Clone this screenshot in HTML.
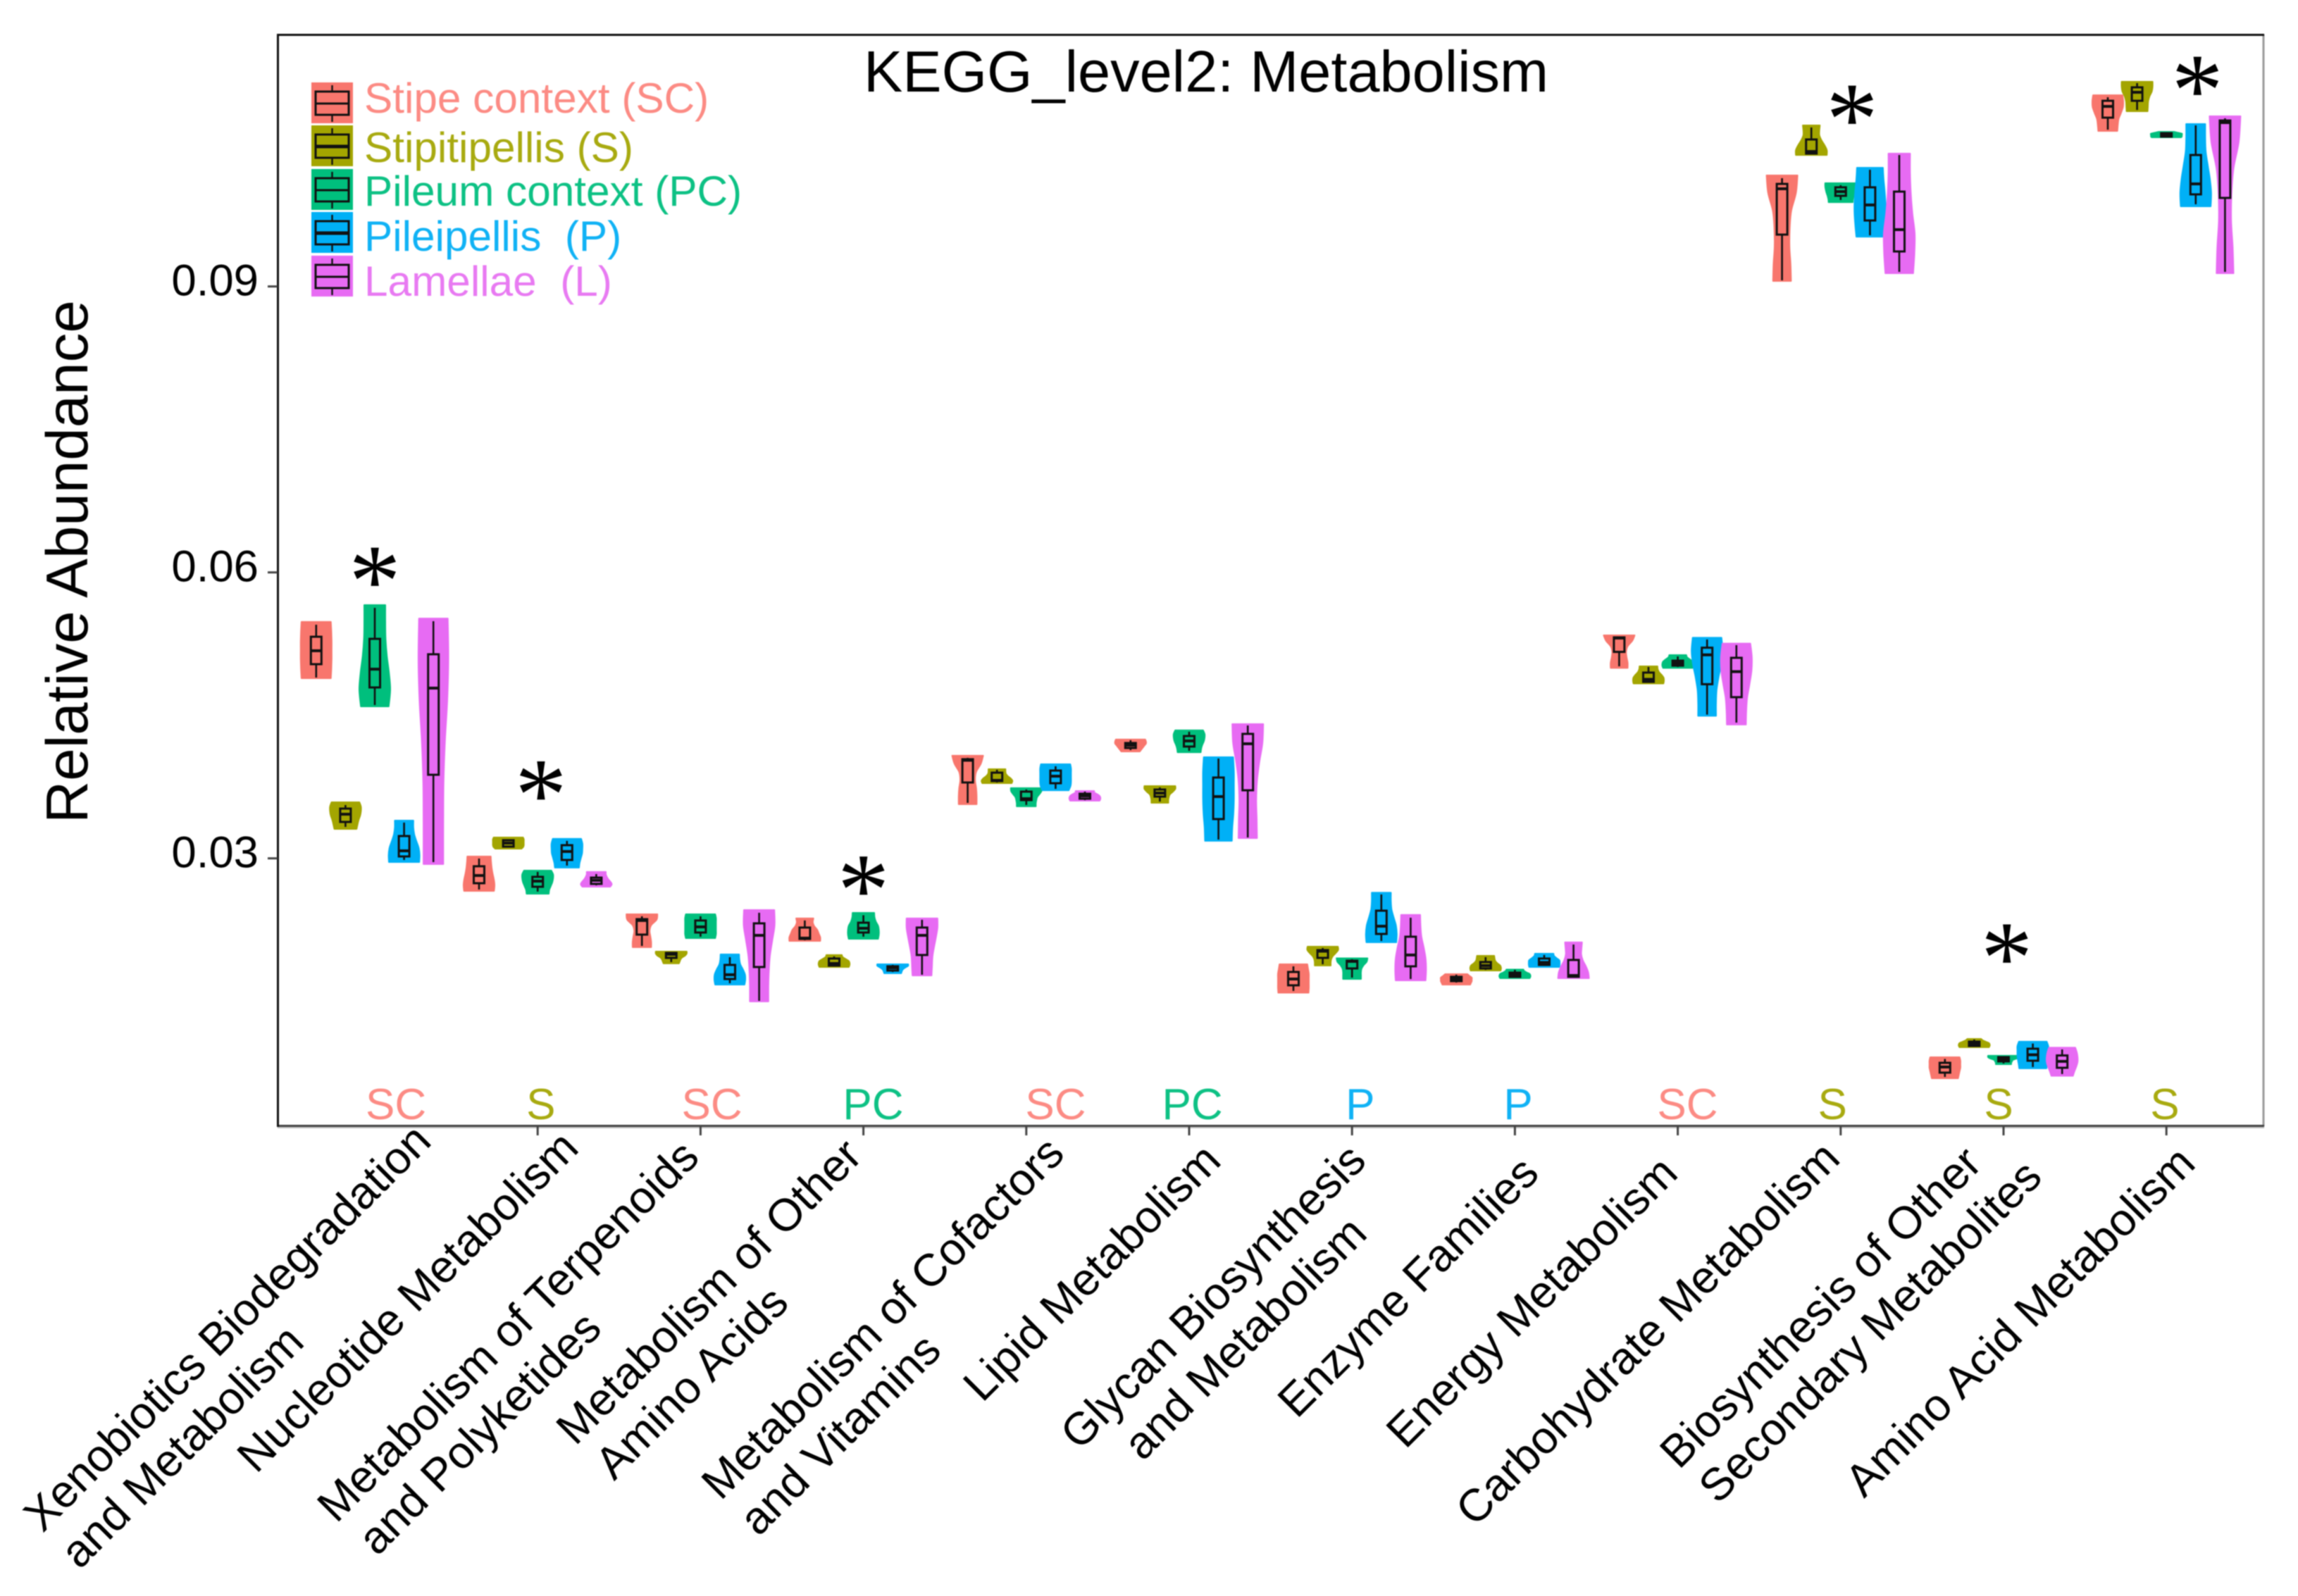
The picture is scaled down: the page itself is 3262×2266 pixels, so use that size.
<!DOCTYPE html>
<html lang="en">
<head>
<meta charset="utf-8">
<title>KEGG_level2: Metabolism</title>
<style>
html,body{margin:0;padding:0;background:#fff;}
svg{display:block;filter:blur(0.7px);}
text{font-family:"Liberation Sans",Arial,sans-serif;white-space:pre;}
</style>
</head>
<body>
<svg id="chart" xmlns="http://www.w3.org/2000/svg" width="3262" height="2266" viewBox="0 0 3262 2266">
  <rect x="0" y="0" width="3262" height="2266" fill="#ffffff"/>
  <g id="marks"></g>
  <line x1="3213" y1="49" x2="3213" y2="1599" stroke="#9a9a9a" stroke-width="3"/>
  <line x1="394" y1="1601" x2="3214" y2="1601" stroke="#c4c4c4" stroke-width="2"/>
  <line x1="394" y1="1598.5" x2="3214" y2="1598.5" stroke="#444444" stroke-width="3"/>
  <line x1="393" y1="49.5" x2="3214" y2="49.5" stroke="#111111" stroke-width="3"/>
  <line x1="394.5" y1="48" x2="394.5" y2="1600" stroke="#111111" stroke-width="3"/>
  <g id="axes"></g>
  <text x="1226" y="130" font-size="82.9" fill="#000">KEGG_level2: Metabolism</text>
  <text transform="translate(124,1169) rotate(-90)" font-size="83.5" fill="#000">Relative Abundance</text>
  <g id="legend"></g>
</svg>
<script>
// ---------- Data ----------
const categories = [
  ["Xenobiotics Biodegradation", "and Metabolism"],
  ["Nucleotide Metabolism"],
  ["Metabolism of Terpenoids", "and Polyketides"],
  ["Metabolism of Other", "Amino Acids"],
  ["Metabolism of Cofactors", "and Vitamins"],
  ["Lipid Metabolism"],
  ["Glycan Biosynthesis", "and Metabolism"],
  ["Enzyme Families"],
  ["Energy Metabolism"],
  ["Carbohydrate Metabolism"],
  ["Biosynthesis of Other", "Secondary Metabolites"],
  ["Amino Acid Metabolism"]
];
const tissues = ["Stipe context (SC)", "Stipitipellis (S)", "Pileum context (PC)", "Pileipellis  (P)", "Lamellae  (L)"];
const yTicks = [0.09, 0.06, 0.03];
const yTickLabels = ["0.09", "0.06", "0.03"];
const dominantTissue = [0, 1, 0, 2, 0, 2, 3, 3, 0, 1, 1, 1];
const dominantLabels = ["SC", "S", "SC", "PC", "SC", "PC", "P", "P", "SC", "S", "S", "S"];
const asteriskBand = [0, 1.02, 3, 9.07, 10.02, 11.19];
const asteriskValue = [0.06053, 0.03811, 0.02813, 0.10900, 0.02100, 0.11203];

const violinMax = [
  [0.05481, 0.03589, 0.05658, 0.03397, 0.05517],
  [0.03020, 0.03219, 0.02872, 0.03205, 0.02858],
  [0.02414, 0.02022, 0.02414, 0.01993, 0.02458],
  [0.02370, 0.01986, 0.02429, 0.01889, 0.02370],
  [0.04077, 0.03936, 0.03737, 0.03988, 0.03707],
  [0.04247, 0.03759, 0.04343, 0.04062, 0.04409],
  [0.01889, 0.02074, 0.01952, 0.02640, 0.02407],
  [0.01786, 0.01978, 0.01834, 0.02000, 0.02119],
  [0.05340, 0.05015, 0.05133, 0.05315, 0.05254],
  [0.10165, 0.10690, 0.10084, 0.10246, 0.10394],
  [0.00914, 0.01106, 0.00929, 0.01077, 0.01014],
  [0.11007, 0.11148, 0.10623, 0.10705, 0.10786]
];
const whiskerHigh = [
  [0.05451, 0.03559, 0.05628, 0.03375, 0.05488],
  [0.02998, 0.03197, 0.02858, 0.03183, 0.02835],
  [0.02392, 0.02015, 0.02392, 0.01963, 0.02429],
  [0.02348, 0.01971, 0.02403, 0.01882, 0.02355],
  [0.04054, 0.03929, 0.03722, 0.03966, 0.03700],
  [0.04239, 0.03744, 0.04328, 0.04047, 0.04394],
  [0.01867, 0.02059, 0.01941, 0.02621, 0.02377],
  [0.01779, 0.01963, 0.01830, 0.01986, 0.02096],
  [0.05322, 0.05008, 0.05118, 0.05296, 0.05237],
  [0.10136, 0.10668, 0.10062, 0.10224, 0.10379],
  [0.00895, 0.01099, 0.00921, 0.01057, 0.00995],
  [0.10985, 0.11133, 0.10616, 0.10690, 0.10764]
];
const q3 = [
  [0.05325, 0.03522, 0.05303, 0.03234, 0.05141],
  [0.02917, 0.03190, 0.02806, 0.03138, 0.02798],
  [0.02362, 0.02008, 0.02348, 0.01882, 0.02318],
  [0.02274, 0.01949, 0.02325, 0.01867, 0.02274],
  [0.04040, 0.03899, 0.03700, 0.03921, 0.03678],
  [0.04210, 0.03722, 0.04283, 0.03848, 0.04306],
  [0.01808, 0.02037, 0.01926, 0.02451, 0.02178],
  [0.01757, 0.01912, 0.01801, 0.01949, 0.01934],
  [0.05318, 0.04949, 0.05074, 0.05210, 0.05104],
  [0.10076, 0.10542, 0.10040, 0.10040, 0.09995],
  [0.00855, 0.01077, 0.00914, 0.01003, 0.00932],
  [0.10948, 0.11089, 0.10608, 0.10379, 0.10741]
];
const medians = [
  [0.05178, 0.03463, 0.04985, 0.03079, 0.04786],
  [0.02820, 0.03160, 0.02761, 0.03072, 0.02769],
  [0.02348, 0.01993, 0.02281, 0.01779, 0.02192],
  [0.02163, 0.01897, 0.02266, 0.01852, 0.02192],
  [0.04029, 0.03818, 0.03626, 0.03862, 0.03655],
  [0.04187, 0.03685, 0.04232, 0.03648, 0.04202],
  [0.01734, 0.02026, 0.01919, 0.02288, 0.01986],
  [0.01734, 0.01875, 0.01779, 0.01908, 0.01771],
  [0.05311, 0.04878, 0.05048, 0.05135, 0.04959],
  [0.10025, 0.10416, 0.09995, 0.09855, 0.09596],
  [0.00811, 0.01055, 0.00895, 0.00939, 0.00870],
  [0.10889, 0.11037, 0.10586, 0.10076, 0.10719]
];
const q1 = [
  [0.05037, 0.03382, 0.04793, 0.03020, 0.03877],
  [0.02739, 0.03123, 0.02702, 0.02983, 0.02732],
  [0.02200, 0.01956, 0.02222, 0.01734, 0.01860],
  [0.02155, 0.01875, 0.02222, 0.01823, 0.01986],
  [0.03796, 0.03811, 0.03611, 0.03788, 0.03626],
  [0.04158, 0.03648, 0.04173, 0.03412, 0.03714],
  [0.01668, 0.01956, 0.01845, 0.02207, 0.01867],
  [0.01712, 0.01845, 0.01757, 0.01882, 0.01757],
  [0.05166, 0.04852, 0.05022, 0.04827, 0.04691],
  [0.09544, 0.10394, 0.09951, 0.09692, 0.09367],
  [0.00752, 0.01032, 0.00870, 0.00877, 0.00803],
  [0.10771, 0.10948, 0.10572, 0.09966, 0.09929]
];
const whiskerLow = [
  [0.04897, 0.03330, 0.04609, 0.02983, 0.02961],
  [0.02673, 0.03116, 0.02651, 0.02924, 0.02717],
  [0.02081, 0.01912, 0.02178, 0.01690, 0.01505],
  [0.02141, 0.01867, 0.02178, 0.01808, 0.01779],
  [0.03582, 0.03796, 0.03560, 0.03729, 0.03611],
  [0.04136, 0.03596, 0.04128, 0.03197, 0.03219],
  [0.01609, 0.01889, 0.01749, 0.02133, 0.01734],
  [0.01697, 0.01830, 0.01753, 0.01878, 0.01753],
  [0.05015, 0.04849, 0.05008, 0.04508, 0.04424],
  [0.09064, 0.10394, 0.09907, 0.09537, 0.09153],
  [0.00707, 0.01025, 0.00848, 0.00811, 0.00737],
  [0.10645, 0.10852, 0.10568, 0.09862, 0.09153]
];
const violinMin = [
  [0.04889, 0.03308, 0.04594, 0.02961, 0.02939],
  [0.02658, 0.03101, 0.02628, 0.02902, 0.02702],
  [0.02067, 0.01897, 0.02163, 0.01675, 0.01498],
  [0.02133, 0.01860, 0.02155, 0.01794, 0.01771],
  [0.03567, 0.03788, 0.03545, 0.03714, 0.03604],
  [0.04121, 0.03582, 0.04113, 0.03183, 0.03212],
  [0.01590, 0.01875, 0.01734, 0.02119, 0.01719],
  [0.01675, 0.01823, 0.01742, 0.01860, 0.01742],
  [0.04997, 0.04834, 0.04997, 0.04495, 0.04403],
  [0.09057, 0.10379, 0.09884, 0.09522, 0.09138],
  [0.00692, 0.01018, 0.00840, 0.00796, 0.00718],
  [0.10631, 0.10838, 0.10564, 0.09840, 0.09138]
];
// Relative violin width at seven evenly spaced heights, top to bottom.
const density = [
  [[.95,.98,1,1,1,.98,.95],[.9,1,1,.95,.85,.78,.72],[.68,.68,.7,.78,.92,1,.9],[.6,.6,.66,.8,.95,1,.98],[.93,.97,.9,.75,.66,.64,.64]],
  [[.76,.78,.82,.88,.96,1,.97],[.95,1,1,1,1,.97,.85],[.88,1,1,.95,.85,.75,.72],[.92,1,1,.98,.9,.82,.78],[.62,.62,.68,.78,.92,1,.9]],
  [[1,.95,.6,.5,.55,.6,.6],[1,1,.9,.7,.6,.55,.5],[.95,1,1,1,1,1,.95],[.6,.62,.68,.85,.98,1,.95],[.98,1,.85,.7,.63,.6,.6]],
  [[.56,.52,.6,.8,.9,1,1],[.5,.55,.75,.95,1,1,.95],[.7,.72,.8,.95,1,1,.95],[1,1,.85,.7,.62,.58,.55],[1,1,.9,.78,.68,.65,.62]],
  [[1,.85,.55,.48,.55,.58,.58],[.55,.55,.58,.7,.9,1,.95],[1,.98,.85,.7,.65,.62,.62],[.95,1,1,1,1,.97,.85],[.6,.62,.8,.95,1,1,.95]],
  [[.95,1,1,.9,.8,.7,.6],[1,1,.85,.65,.58,.55,.55],[.9,1,1,.95,.85,.78,.75],[.95,1,1,1,.97,.9,.87],[1,.95,.75,.6,.55,.58,.6]],
  [[.9,.95,1,1,1,1,.98],[.98,1,.85,.65,.55,.52,.52],[1,.95,.75,.62,.58,.58,.58],[.62,.62,.66,.8,.95,1,.97],[.62,.64,.7,.85,.97,1,.97]],
  [[.72,.85,1,1,1,.95,.9],[.56,.58,.62,.75,.95,1,.97],[.55,.6,.75,.95,1,1,.95],[.6,.64,.8,.98,1,1,.97],[.55,.52,.5,.6,.8,.95,1]],
  [[1,.85,.55,.45,.48,.55,.55],[.58,.6,.68,.85,.98,1,.97],[.55,.6,.78,.95,1,1,.95],[.93,1,.92,.75,.62,.58,.58],[.9,1,.98,.85,.7,.64,.62]],
  [[1,.9,.6,.5,.48,.55,.58],[.55,.52,.52,.65,.85,1,1],[1,1,.97,.92,.85,.8,.78],[.84,.88,.95,1,1,.95,.88],[.7,.7,.75,.85,1,.98,.9]],
  [[.95,1,1,1,.95,.9,.85],[.45,.55,.75,.95,1,1,.95],[1,1,.85,.6,.55,.5,.5],[.9,1,1,1,.97,.92,.88],[.85,.95,1,1,.92,.8,.7]],
  [[.95,1,.98,.85,.7,.65,.62],[1,1,.95,.8,.72,.7,.68],[.5,.75,1,1,1,1,.95],[.62,.62,.65,.78,.92,1,.97],[1,.88,.55,.42,.4,.5,.55]]
];

// ---------- Layout and style (not data) ----------
const fillColors = ["#F8766D", "#A3A500", "#00BF7D", "#00B0F6", "#E76BF3"];
const textColors = ["#FC8B84", "#A8AA10", "#0DC184", "#10B2F5", "#E87AF2"];
const dominantBand = [.13, 1.02, 2.07, 3.06, 4.18, 5.02, 6.05, 7.02, 8.06, 8.95, 9.97, 10.99];
const labelEndOffsetX = [83, 61, 1, 1, 57, 48, 23, 37, 3, 2, -28, 44];
const labelEndY = [1623, 1633, 1646, 1644, 1641, 1651, 1651, 1669, 1669, 1648, 1655, 1655];
const secondLineShift = [0, 0, 8, 4, 2, 0, 53, 0, 0, 0, 4, 0];
const legendTop = [117, 178, 240, 301, 363];
const legendBaseline = [160, 230, 292, 356, 420];

const SVGNS = "http://www.w3.org/2000/svg";
const yOrigin = 406.7, yPerUnit = 13533;
function yScale(v) { return yOrigin + (0.09 - v) * yPerUnit; }
function xBand(g) { return 532 + 231.2 * g; }
function xDodge(g, t) { return xBand(g) + (t - 2) * 41.6; }
const violinWidth = 44, boxWidth = 15;

function make(parent, tag, attrs) {
  const el = document.createElementNS(SVGNS, tag);
  for (const k in attrs) el.setAttribute(k, attrs[k]);
  parent.appendChild(el);
  return el;
}
function smoothSide(pts) {
  let d = "";
  for (let i = 0; i < pts.length - 1; i++) {
    const p0 = pts[Math.max(i - 1, 0)], p1 = pts[i], p2 = pts[i + 1], p3 = pts[Math.min(i + 2, pts.length - 1)];
    const c1x = p1[0] + (p2[0] - p0[0]) / 6, c1y = p1[1] + (p2[1] - p0[1]) / 6;
    const c2x = p2[0] - (p3[0] - p1[0]) / 6, c2y = p2[1] - (p3[1] - p1[1]) / 6;
    d += "C" + c1x.toFixed(1) + " " + c1y.toFixed(1) + " " + c2x.toFixed(1) + " " + c2y.toFixed(1) + " " + p2[0].toFixed(1) + " " + p2[1].toFixed(1);
  }
  return d;
}
function violinPath(cx, g, t) {
  const top = yScale(violinMax[g][t]), bottom = yScale(violinMin[g][t]);
  const prof = density[g][t];
  const right = [], left = [];
  prof.forEach(function (w, i) {
    const y = top + (bottom - top) * i / (prof.length - 1);
    right.push([cx + w * violinWidth / 2, y]);
    left.unshift([cx - w * violinWidth / 2, y]);
  });
  return "M" + right[0][0].toFixed(1) + " " + right[0][1].toFixed(1) + smoothSide(right) +
    "L" + left[0][0].toFixed(1) + " " + left[0][1].toFixed(1) + smoothSide(left) + "Z";
}

// ---------- Marks ----------
const marks = document.getElementById("marks");
categories.forEach(function (cat, g) {
  tissues.forEach(function (tissue, t) {
    const cx = xDodge(g, t);
    const group = make(marks, "g", {});
    
    
    const v = make(group, "path", { d: violinPath(cx, g, t), fill: fillColors[t], stroke: fillColors[t], "stroke-width": 2, "stroke-linejoin": "round" });
    
    
    const whiskerA = make(group, "line", { x1: cx, x2: cx, y1: yScale(whiskerHigh[g][t]), y2: yScale(q3[g][t]), stroke: "#111", "stroke-width": 2.6 });
    
    
    const whiskerB = make(group, "line", { x1: cx, x2: cx, y1: yScale(q1[g][t]), y2: yScale(whiskerLow[g][t]), stroke: "#111", "stroke-width": 2.6 });
    
    
    const box = make(group, "rect", { x: cx - boxWidth / 2, width: boxWidth, y: yScale(q3[g][t]), height: yScale(q1[g][t]) - yScale(q3[g][t]), fill: "none", stroke: "#111", "stroke-width": 3 });
    
    
    const med = make(group, "line", { x1: cx - boxWidth / 2, x2: cx + boxWidth / 2, y1: yScale(medians[g][t]), y2: yScale(medians[g][t]), stroke: "#111", "stroke-width": 4 });
    
    
  });
  const domLabel = make(marks, "text", { x: xBand(dominantBand[g]), y: 1589, "text-anchor": "middle", "font-size": 62, fill: textColors[dominantTissue[g]] });
  
  
  domLabel.textContent = dominantLabels[g];
});
asteriskBand.forEach(function (b, i) {
  const star = make(marks, "text", { x: xBand(b), y: yScale(asteriskValue[i]) + 69, "text-anchor": "middle", "font-size": 148, fill: "#000", style: 'font-family:"Liberation Serif",serif' });
  
  
  star.textContent = "*";
});

// ---------- Axes ----------
const axes = document.getElementById("axes");
yTicks.forEach(function (v, i) {
  const tick = make(axes, "line", { x1: 380, x2: 394, y1: yScale(v), y2: yScale(v), stroke: "#444", "stroke-width": 3 });
  
  
  const lab = make(axes, "text", { x: 367, y: yScale(v) + 13, "text-anchor": "end", "font-size": 63.5, fill: "#000" });
  
  
  lab.textContent = yTickLabels[i];
});
categories.forEach(function (lines, g) {
  const x = xBand(g);
  if (g > 0) {
    const tick = make(axes, "line", { x1: x, x2: x, y1: 1599, y2: 1612, stroke: "#444", "stroke-width": 3 });
    
    
  }
  const block = make(axes, "g", { transform: "translate(" + (x + labelEndOffsetX[g]) + "," + labelEndY[g] + ") rotate(-45)" });
  
  
  const first = make(block, "text", { x: 0, y: 0, "text-anchor": "end", "font-size": 64.4, fill: "#000" });
  
  
  first.textContent = lines[0];
  if (lines[1]) {
    const w = first.getComputedTextLength();
    const second = make(block, "text", { x: -w + secondLineShift[g], y: 74, "text-anchor": "start", "font-size": 64.4, fill: "#000" });
    
    
    second.textContent = lines[1];
  }
});

// ---------- Legend ----------
const legend = document.getElementById("legend");
tissues.forEach(function (name, t) {
  const top = legendTop[t];
  const entry = make(legend, "g", {});
  
  
  const key = make(entry, "rect", { x: 442, y: top, width: 59, height: 58, fill: fillColors[t] });
  
  
  const wh = make(entry, "line", { x1: 471.5, x2: 471.5, y1: top + 4, y2: top + 56, stroke: "#111", "stroke-width": 2.4 });
  
  
  const b = make(entry, "rect", { x: 448, y: top + 13, width: 47, height: 33, fill: fillColors[t], stroke: "#111", "stroke-width": 3 });
  
  
  const m = make(entry, "line", { x1: 448, x2: 495, y1: top + 30, y2: top + 30, stroke: "#111", "stroke-width": (t === 1 || t === 3) ? 5 : 3 });
  
  
  const txt = make(entry, "text", { x: 517, y: legendBaseline[t], "font-size": 60.3, fill: textColors[t] });
  
  
  txt.textContent = name;
});
</script>
</body>
</html>
